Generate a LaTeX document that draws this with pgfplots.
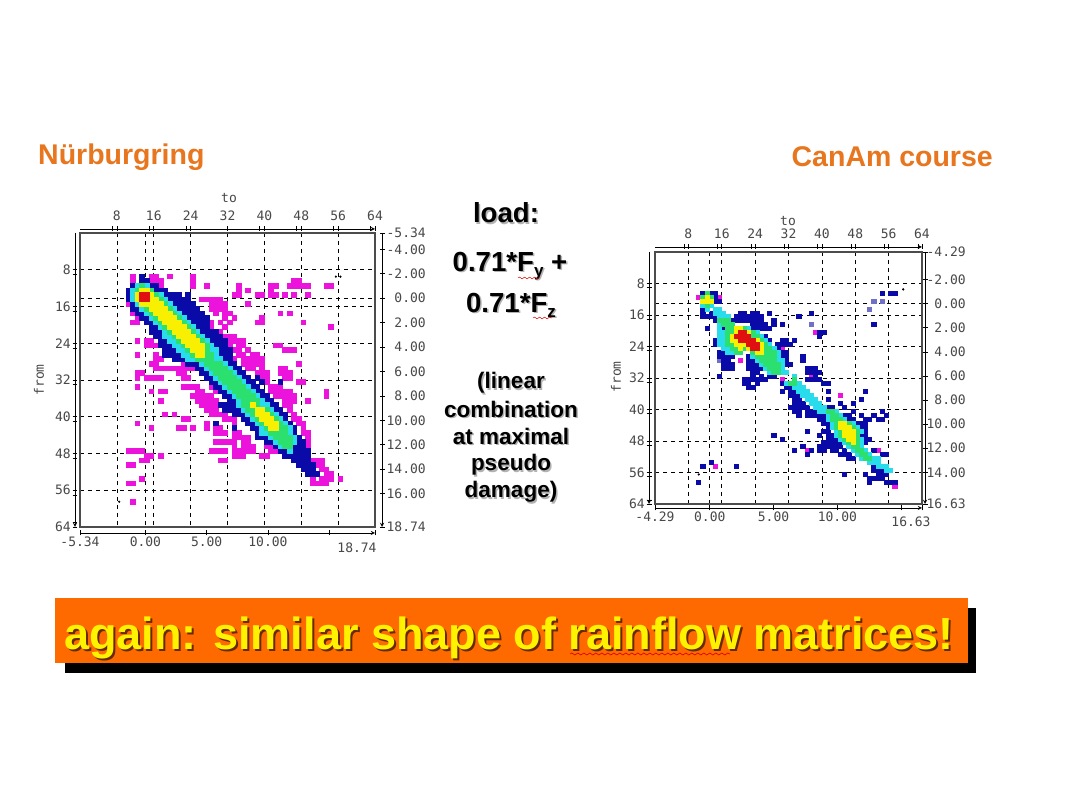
\documentclass[border=0pt]{standalone}
\usepackage{fontspec}
\usepackage{pgfplots}
\usetikzlibrary{decorations.pathmorphing}
\pgfplotsset{compat=1.18}
\setmainfont{Liberation Sans}
\newfontfamily\tickfont{DejaVu Sans Mono}

\definecolor{cmag}{HTML}{EC14DC}
\definecolor{cvio}{HTML}{7070C8}
\definecolor{cblu}{HTML}{0A0AA8}
\definecolor{ccya}{HTML}{28DCEC}
\definecolor{cgre}{HTML}{2CE070}
\definecolor{cyel}{HTML}{F8F000}
\definecolor{cred}{HTML}{E01010}
\definecolor{ctitle}{HTML}{E8761E}
\definecolor{cbanner}{HTML}{FF6A00}
\definecolor{ctick}{HTML}{484848}

\pgfplotsset{
  ruler/.style={scale only axis, tick align=outside, major tick length=5pt, minor tick length=5pt,
    tick style={black, line width=.6pt}, axis line style={black, line width=.9pt, -},
    tick label style={font=\tickfont\fontsize{13}{14}\selectfont, text=ctick, inner sep=1.5pt}},
  panel/.style={scale only axis, axis on top, xmin=-0.5, xmax=63.5, ymin=-0.5, ymax=63.5,
    y dir=reverse, grid=major, major tick length=0pt, xticklabels={}, yticklabels={},
    major grid style={black, dash pattern=on 4pt off 4pt, line width=.7pt}, axis line style={black!70, line width=1.2pt}},
  cellL/.style={only marks, mark=square*, mark size=2.35pt, color=#1, mark options={solid, line width=0pt}},
  cellR/.style={only marks, mark=square*, mark size=2.12pt, color=#1, mark options={solid, line width=0pt, yscale=.95}},
  speck/.style={only marks, mark=*, mark size=.9pt, color=black},
}

\newcommand{\shadowtext}[3]{% x, y, text
  \node[text=black!30, align=center] at (#1pt+1.5pt,#2pt-1.5pt) {#3};
  \node[text=black, align=center] at (#1pt,#2pt) {#3};}
\newcommand{\subs}[1]{\raisebox{-5pt}{\fontsize{17}{17}\selectfont #1}}

\begin{document}
\begin{tikzpicture}[x=1pt, y=1pt]
\useasboundingbox (0,0) rectangle (1080,810);
\fill[white] (0,0) rectangle (1080,810);

% titles
\node[anchor=west, text=ctitle, font=\bfseries\fontsize{28.5}{30}\selectfont, inner sep=0pt] at (38,653) {Nürburgring};
\node[anchor=east, text=ctitle, font=\bfseries\fontsize{28.5}{30}\selectfont, inner sep=0pt] at (993,653) {CanAm course};

% ---------- left matrix ----------
\begin{axis}[panel, at={(80pt,283pt)}, anchor=south west, width=295pt, height=294pt,
  xtick={7.5,13.7,15.5,23.5,31.5,39.5,47.5,55.5}, ytick={7.5,13.8,15.5,23.5,31.5,39.5,47.5,55.5}]
% magenta
\addplot[cellL=cmag] coordinates {
(11,9)(15,9)(16,9)(19,9)(24,9)(11,10)(15,10)(16,10)(17,10)(24,10)(46,10)(47,10)
(16,11)(17,11)(24,11)(27,11)(34,11)(41,11)(42,11)(45,11)(46,11)(47,11)(48,11)(49,11)(53,11)(54,11)
(34,12)(36,12)(41,12)(33,13)(34,13)(38,13)(39,13)(41,13)(42,13)(44,13)(46,13)(49,13)
(10,14)(26,14)(27,14)(28,14)(29,14)(30,14)(10,15)(28,15)(29,15)(30,15)(31,15)(36,15)
(28,16)(29,16)(30,16)(31,16)(29,17)(31,17)(32,17)(43,17)(45,17)(11,17)(12,18)(27,18)(31,18)(33,18)(39,18)
(11,19)(12,19)(28,19)(30,19)(32,19)(38,19)(39,19)(48,19)(27,20)(28,20)(31,20)(54,20)(30,21)
(31,22)(32,22)(33,22)(12,23)(14,23)(15,23)(32,23)(33,23)(34,23)(35,23)(14,24)(15,24)(16,24)(32,24)(34,24)(35,24)(42,24)(43,24)
(33,25)(34,25)(36,25)(44,25)(45,25)(46,25)(12,26)(16,26)(34,26)(35,26)(37,26)(38,26)
(16,27)(17,27)(33,27)(35,27)(36,27)(37,27)(38,27)(39,27)(15,28)(16,28)(22,28)(35,28)(36,28)(37,28)(38,28)(39,28)(47,28)
(16,29)(17,29)(18,29)(19,29)(20,29)(21,29)(22,29)(23,29)(24,29)(36,29)(37,29)(39,29)(43,29)(44,29)
(12,30)(13,30)(21,30)(22,30)(38,30)(39,30)(40,30)(43,30)(44,30)(45,30)
(12,31)(14,31)(15,31)(16,31)(17,31)(22,31)(23,31)(39,31)(40,31)(44,31)(45,31)(40,32)(47,32)(48,32)
(12,33)(22,33)(23,33)(24,33)(25,33)(28,33)(41,33)(42,33)(43,33)
(15,34)(17,34)(18,34)(25,34)(26,34)(29,34)(41,34)(42,34)(43,34)(44,34)(45,34)(53,34)
(24,35)(25,35)(26,35)(27,35)(28,35)(42,35)(43,35)(44,35)(45,35)(46,35)(53,35)
(17,36)(25,36)(26,36)(27,36)(28,36)(29,36)(44,36)(45,36)(46,36)(49,36)
(26,37)(27,37)(28,37)(29,37)(44,37)(45,37)(27,38)(28,38)(29,38)(45,38)
(18,39)(20,39)(28,39)(29,39)(30,39)(31,39)(46,39)(22,40)(23,40)(31,40)(32,40)(33,40)(46,40)(47,40)
(12,41)(27,41)(33,41)(47,41)(48,41)(15,42)(21,42)(22,42)(24,42)(27,42)(29,42)(30,42)(48,42)
(29,43)(30,43)(31,43)(33,43)(34,43)(48,43)(49,43)(33,44)(34,44)(35,44)(36,44)(49,44)
(29,45)(30,45)(31,45)(32,45)(33,45)(35,45)(36,45)(40,45)(41,45)(42,45)(48,45)(49,45)
(33,46)(35,46)(36,46)(37,46)(40,46)(41,46)(42,46)(43,46)(49,46)
(10,47)(11,47)(12,47)(13,47)(28,47)(29,47)(30,47)(31,47)(33,47)(34,47)(35,47)(36,47)(37,47)(41,47)(42,47)(43,47)
(14,48)(15,48)(17,48)(33,48)(34,48)(35,48)(39,48)(40,48)
(13,49)(14,49)(30,49)(31,49)(50,49)(51,49)(52,49)(10,50)(11,50)(51,50)(52,50)(52,51)(53,51)(53,52)(54,52)
(13,53)(50,53)(52,53)(53,53)(54,53)(56,53)(10,54)(11,54)(50,54)(51,54)(52,54)(53,54)(11,58)};
% blue
\addplot[cellL=cblu] coordinates {
(13,9)(13,10)(14,10)(11,11)(15,11)(16,11)(10,12)(16,12)(17,12)(18,12)(10,13)(18,13)(19,13)(20,13)(21,13)(23,13)
(10,14)(19,14)(20,14)(21,14)(22,14)(23,14)(11,15)(20,15)(21,15)(22,15)(23,15)(24,15)
(11,16)(12,16)(21,16)(22,16)(23,16)(24,16)(25,16)(12,17)(13,17)(22,17)(23,17)(24,17)(25,17)(26,17)
(13,18)(14,18)(23,18)(24,18)(25,18)(26,18)(27,18)(14,19)(15,19)(24,19)(25,19)(26,19)(27,19)
(15,20)(16,20)(25,20)(26,20)(27,20)(15,21)(16,21)(17,21)(26,21)(27,21)(28,21)(29,21)
(16,22)(17,22)(27,22)(28,22)(29,22)(30,22)(17,23)(18,23)(28,23)(29,23)(30,23)(31,23)
(17,24)(18,24)(19,24)(29,24)(30,24)(31,24)(18,25)(19,25)(20,25)(30,25)(31,25)(32,25)
(18,26)(19,26)(20,26)(21,26)(30,26)(31,26)(32,26)(20,27)(21,27)(22,27)(31,27)(32,27)
(23,28)(24,28)(25,28)(32,28)(33,28)(25,29)(26,29)(33,29)(34,29)(26,30)(27,30)(34,30)(35,30)
(27,31)(28,31)(35,31)(36,31)(38,31)(28,32)(29,32)(36,32)(37,32)(39,32)(43,32)(29,33)(30,33)(37,33)(38,33)
(30,34)(31,34)(38,34)(39,34)(31,35)(32,35)(39,35)(40,35)(32,36)(33,36)(40,36)(41,36)
(30,37)(31,37)(32,37)(33,37)(41,37)(42,37)(31,38)(32,38)(33,38)(34,38)(42,38)(43,38)
(33,39)(34,39)(35,39)(43,39)(44,39)(35,40)(36,40)(44,40)(29,41)(36,41)(37,41)(45,41)(33,42)(37,42)(38,42)(46,42)
(38,43)(46,43)(38,44)(39,44)(40,44)(47,44)(40,45)(41,45)(47,45)(48,45)(42,46)(46,46)(47,46)(48,46)
(43,47)(44,47)(46,47)(47,47)(48,47)(49,47)(44,48)(45,48)(46,48)(47,48)(48,48)(49,48)
(46,49)(47,49)(48,49)(49,49)(47,50)(48,50)(49,50)(50,50)(48,51)(49,51)(50,51)(49,52)(50,52)(51,52)};
% cyan
\addplot[cellL=ccya] coordinates {
(12,11)(14,11)(11,12)(11,13)(17,13)(11,14)(18,14)(12,15)(19,15)(13,16)(20,16)(14,17)(21,17)(15,18)(22,18)
(16,19)(23,19)(17,20)(24,20)(18,21)(25,21)(18,22)(19,22)(26,22)(19,23)(20,23)(27,23)(20,24)(21,24)(28,24)
(21,25)(22,25)(28,25)(29,25)(22,26)(23,26)(29,26)(23,27)(24,27)(29,27)(30,27)(26,28)(31,28)
(27,29)(32,29)(28,30)(33,30)(29,31)(34,31)(30,32)(35,32)
(31,33)(36,33)(32,34)(37,34)(33,35)(38,35)(34,36)(39,36)
(34,37)(39,37)(40,37)(35,38)(41,38)(36,39)(42,39)(37,40)(43,40)(38,41)(44,41)(39,42)(45,42)
(39,43)(40,43)(45,43)(41,44)(46,44)(42,45)(46,45)(43,46)(45,47)};
% green
\addplot[cellL=cgre] coordinates {
(13,11)(12,12)(15,12)(16,13)(17,14)(18,15)(14,16)(19,16)(15,17)(20,17)(16,18)(21,18)(17,19)(22,19)
(18,20)(23,20)(19,21)(24,21)(20,22)(25,22)(21,23)(26,23)(22,24)(27,24)(23,25)(27,25)(24,26)(27,26)(28,26)
(25,27)(26,27)(27,27)(28,27)(27,28)(28,28)(29,28)(30,28)(28,29)(29,29)(30,29)(31,29)(29,30)(30,30)(31,30)(32,30)
(30,31)(31,31)(32,31)(33,31)(31,32)(32,32)(33,32)(34,32)(32,33)(33,33)(34,33)(35,33)(33,34)(34,34)(35,34)(36,34)
(34,35)(35,35)(36,35)(37,35)(35,36)(36,36)(37,36)(38,36)(35,37)(36,37)(38,37)(36,38)(37,38)(40,38)(37,39)(41,39)
(38,40)(42,40)(39,41)(43,41)(40,42)(43,42)(44,42)(41,43)(42,43)(43,43)(44,43)(42,44)(43,44)(44,44)(45,44)
(43,45)(44,45)(45,45)(44,46)(45,46)};
% yellow
\addplot[cellL=cyel] coordinates {
(13,12)(14,12)(12,13)(15,13)(12,14)(15,14)(16,14)(13,15)(14,15)(15,15)(16,15)(17,15)(15,16)(16,16)(17,16)(18,16)
(16,17)(17,17)(18,17)(19,17)(17,18)(18,18)(19,18)(20,18)(18,19)(19,19)(20,19)(21,19)(19,20)(20,20)(21,20)(22,20)
(20,21)(21,21)(22,21)(23,21)(21,22)(22,22)(23,22)(24,22)(22,23)(23,23)(24,23)(25,23)(23,24)(24,24)(25,24)(26,24)
(24,25)(25,25)(26,25)(25,26)(26,26)(37,37)(38,38)(39,38)(38,39)(39,39)(40,39)(39,40)(40,40)(41,40)(40,41)(41,41)(42,41)(41,42)(42,42)};
% red
\addplot[cellL=cred] coordinates {(13,13)(14,13)(13,14)(14,14)};
\addplot[speck] coordinates {(55,9)(56,9)(8,58)};
\end{axis}

\begin{axis}[ruler, at={(80pt,580pt)}, anchor=south west, width=295pt, height=1pt, axis x line=top, axis y line=none,
  xmin=0, xmax=64, ymin=0, ymax=1, xtick={8,16,24,32,40,48,56,64}, minor xtick={7,15,23,39,47,55,63},
  xticklabels={8,16,24,32,40,48,56,64}, xticklabel style={yshift=4pt}]
\end{axis}
\begin{axis}[ruler, at={(80pt,277pt)}, anchor=south west, width=295pt, height=1pt, axis x line=bottom, axis y line=none,
  xmin=-5.34, xmax=18.74, ymin=0, ymax=1, xtick={-5.34,0,5,10,15,18.74}, xticklabels={-5.34,0.00,5.00,10.00,,}]
\end{axis}
\begin{axis}[ruler, at={(76pt,283pt)}, anchor=south east, width=1pt, height=294pt, axis y line=left, axis x line=none,
  xmin=0, xmax=1, ymin=0, ymax=64, y dir=reverse, ytick={8,16,24,32,40,48,56,64}, minor ytick={9,17,25,33,41,49,57,63},
  yticklabels={8,16,24,32,40,48,56,64}]
\end{axis}
\begin{axis}[ruler, at={(382pt,283pt)}, anchor=south east, width=1pt, height=294pt, axis y line=right, axis x line=none,
  xmin=0, xmax=1, ymin=-5.34, ymax=18.74, y dir=reverse, ytick={-5.34,-4,-2,0,2,4,6,8,10,12,14,16,18.74},
  yticklabels={-5.34,-4.00,-2.00,0.00,2.00,4.00,6.00,8.00,10.00,12.00,14.00,16.00,18.74},
  yticklabel style={anchor=east, xshift=43pt}]
\end{axis}
\node[font=\tickfont\fontsize{13}{14}\selectfont, text=ctick] at (357,262) {18.74};
\node[font=\tickfont\fontsize{13}{14}\selectfont, text=ctick] at (229,612) {to};
\node[font=\tickfont\fontsize{13}{14}\selectfont, text=ctick, rotate=90] at (39,430) {from};

% ---------- right matrix ----------
\begin{axis}[panel, at={(655pt,306pt)}, anchor=south west, width=267pt, height=252pt,
  xtick={7.5,12.5,15.5,23.5,31.5,39.5,47.5,55.5}, ytick={7.5,12.5,15.5,23.5,31.5,39.5,47.5,55.5}]
% magenta and violet
\addplot[cellR=cmag] coordinates {(10,11)(15,11)(38,20)(20,27)(30,24)(27,31)(37,31)(30,32)(44,36)(48,43)(43,47)(36,50)(53,50)(14,54)(57,59)};
\addplot[cellR=cvio] coordinates {(52,12)(54,12)(51,14)(37,18)(15,27)};
% blue
\addplot[cellR=cblu] coordinates {
(11,10)(13,10)(14,10)(54,10)(56,10)(57,10)(14,11)(14,12)(15,12)(11,14)(11,15)(13,15)(20,15)(21,15)(23,15)(24,15)(27,15)(37,15)
(11,16)(12,16)(13,16)(14,16)(19,16)(20,16)(21,16)(22,16)(23,16)(24,16)(25,16)(34,16)
(14,17)(15,17)(18,17)(19,17)(20,17)(21,17)(22,17)(23,17)(24,17)(25,17)(28,17)
(23,18)(24,18)(25,18)(26,18)(28,18)(30,18)(52,18)(12,19)(16,19)(23,19)(24,19)(25,19)(26,19)(27,19)
(16,20)(39,20)(40,20)(39,21)(25,21)(26,21)(26,22)(27,22)(30,22)(31,22)(33,22)(14,22)(14,23)(29,23)(30,23)(31,23)(32,23)
(28,24)(29,24)(15,25)(16,25)(29,25)(30,25)(31,25)(15,26)(16,26)(17,26)(18,26)(22,26)(23,26)(30,26)(31,26)(35,26)
(16,27)(17,27)(22,27)(23,27)(30,27)(31,27)(35,27)(16,28)(17,28)(18,28)(22,28)(23,28)(24,28)(30,28)(31,28)(32,28)
(16,29)(17,29)(18,29)(22,29)(23,29)(24,29)(25,29)(36,29)(37,29)(38,29)(23,30)(24,30)(36,30)(37,30)(38,30)(39,30)
(15,31)(23,31)(25,31)(27,31)(28,31)(38,31)(21,32)(22,32)(23,32)(24,32)(25,32)(26,32)(36,32)(37,32)(38,32)(39,32)
(21,33)(22,33)(24,33)(30,33)(31,33)(40,33)(41,33)(22,34)(23,34)(31,34)(32,34)(33,34)
(30,35)(32,35)(33,35)(41,35)(50,35)(32,36)(33,36)(34,36)(33,37)(34,37)(41,37)(49,37)
(33,38)(34,38)(35,38)(44,38)(47,38)(32,39)(33,39)(34,39)(35,39)(36,39)(40,39)(41,39)(42,39)(45,39)
(33,40)(34,40)(36,40)(37,40)(38,40)(47,40)(54,40)(34,41)(36,41)(37,41)(38,41)(39,41)(40,41)(45,41)(46,41)(49,41)(52,41)(55,41)
(39,42)(40,42)(46,42)(47,42)(50,42)(51,42)(53,42)(54,42)(40,43)(41,43)(48,43)(49,43)(50,43)(41,44)(49,44)(50,44)
(36,45)(40,45)(41,45)(50,45)(28,46)(39,46)(41,46)(42,46)(49,46)(50,46)(30,47)(41,47)(42,47)(43,47)(50,47)(51,47)
(40,48)(41,48)(42,48)(43,48)(44,48)(50,48)(35,49)(39,49)(40,49)(41,49)(42,49)(43,49)(44,49)
(33,50)(37,50)(39,50)(40,50)(42,50)(43,50)(45,50)(52,50)(36,51)(44,51)(45,51)(46,51)(54,51)(55,51)
(46,52)(47,52)(52,52)(53,52)(13,53)(52,53)(53,53)(11,54)(19,54)(52,54)(53,54)(52,55)(53,55)(54,55)
(45,56)(50,56)(53,56)(54,56)(55,56)(51,57)(52,57)(53,57)(54,57)(10,58)(51,58)(55,58)(56,58)(57,58)};
% cyan
\addplot[cellR=ccya] coordinates {
(11,13)(13,13)(12,14)(14,14)(15,14)(14,15)(15,15)(16,15)(15,16)(16,16)(17,16)(15,18)(15,19)(22,19)(15,20)(16,20)(24,20)
(15,21)(16,21)(25,21)(15,22)(16,22)(26,22)(15,23)(16,23)(27,23)(16,24)(17,24)(28,24)(17,25)(18,25)(29,25)(23,26)(29,26)
(24,27)(29,27)(30,27)(25,28)(30,28)(26,29)(30,29)(27,30)(30,30)(31,30)(33,31)(31,33)(34,33)(33,34)(34,34)(35,34)
(34,35)(35,35)(36,35)(35,36)(36,36)(37,36)(36,37)(37,37)(38,37)(37,38)(38,38)(39,38)(38,39)(39,39)(40,39)
(39,40)(40,40)(43,40)(41,41)(44,41)(41,42)(45,42)(42,43)(47,43)(42,44)(48,44)(43,45)(49,45)(43,46)(44,47)(49,47)
(45,48)(49,48)(46,49)(49,49)(47,50)(50,50)(48,51)(51,51)(49,52)(52,52)(53,52)(51,53)(52,53)(53,53)(53,54)(54,54)(55,54)(55,55)(56,55)};
% green
\addplot[cellR=cgre] coordinates {
(12,10)(11,11)(13,11)(12,13)(15,17)(16,17)(17,17)(16,18)(17,18)(18,18)(17,19)(18,19)(21,19)(17,20)(18,20)(23,20)
(17,21)(23,21)(24,21)(17,22)(25,22)(17,23)(18,23)(26,23)(18,24)(19,24)(21,24)(26,24)(27,24)
(19,25)(20,25)(23,25)(26,25)(27,25)(28,25)(24,26)(25,26)(26,26)(27,26)(28,26)(25,27)(26,27)(27,27)(28,27)
(26,28)(27,28)(28,28)(29,28)(27,29)(28,29)(29,29)(28,30)(29,30)(33,32)(32,33)(33,33)
(41,40)(42,40)(42,41)(43,41)(42,42)(43,42)(44,42)(43,43)(46,43)(43,44)(47,44)(44,45)(48,45)(44,46)(48,46)
(45,47)(48,47)(46,48)(48,48)(47,49)(48,49)(48,50)(49,50)(49,51)(50,51)(50,52)(51,52)};
% yellow
\addplot[cellR=cyel] coordinates {
(12,11)(11,12)(12,12)(13,12)(19,19)(20,19)(19,20)(22,20)(18,21)(18,22)(19,22)(24,22)(19,23)(20,23)(21,23)(25,23)(20,24)(22,24)(25,24)(24,25)(25,25)
(44,43)(45,43)(44,44)(45,44)(46,44)(45,45)(46,45)(47,45)(45,46)(46,46)(47,46)(46,47)(47,47)(47,48)};
% red
\addplot[cellR=cred] coordinates {(20,20)(21,20)(19,21)(20,21)(21,21)(22,21)(20,22)(21,22)(22,22)(23,22)(22,23)(23,23)(24,23)(23,24)(24,24)};
\addplot[speck] coordinates {(59,9)(10,56)};
\end{axis}

\begin{axis}[ruler, at={(655pt,562pt)}, anchor=south west, width=267pt, height=1pt, axis x line=top, axis y line=none,
  xmin=0, xmax=64, ymin=0, ymax=1, xtick={8,16,24,32,40,48,56,64}, minor xtick={7,15,23,31,39,47,55,63},
  xticklabels={8,16,24,32,40,48,56,64}, xticklabel style={yshift=4pt}]
\end{axis}
\begin{axis}[ruler, at={(655pt,302pt)}, anchor=south west, width=267pt, height=1pt, axis x line=bottom, axis y line=none,
  xmin=-4.29, xmax=16.63, ymin=0, ymax=1, xtick={-4.29,0,5,10,15,16.63}, xticklabels={-4.29,0.00,5.00,10.00,,}]
\end{axis}
\begin{axis}[ruler, at={(650pt,306pt)}, anchor=south east, width=1pt, height=252pt, axis y line=left, axis x line=none,
  xmin=0, xmax=1, ymin=0, ymax=64, y dir=reverse, ytick={8,16,24,32,40,48,56,64}, minor ytick={9,17,25,33,41,49,57,63},
  yticklabels={8,16,24,32,40,48,56,64}]
\end{axis}
\begin{axis}[ruler, at={(925pt,306pt)}, anchor=south east, width=1pt, height=252pt, axis y line=right, axis x line=none,
  xmin=0, xmax=1, ymin=-4.29, ymax=16.63, y dir=reverse, ytick={-4.29,-2,0,2,4,6,8,10,12,14,16.63},
  yticklabels={-4.29,-2.00,0.00,2.00,4.00,6.00,8.00,10.00,12.00,14.00,16.63},
  yticklabel style={anchor=east, xshift=40pt}]
\end{axis}
\node[font=\tickfont\fontsize{13}{14}\selectfont, text=ctick] at (911,288) {16.63};
\node[font=\tickfont\fontsize{13}{14}\selectfont, text=ctick] at (788,589) {to};
\node[font=\tickfont\fontsize{13}{14}\selectfont, text=ctick, rotate=90] at (616,433) {from};

% ---------- middle text ----------
\begin{scope}[font=\bfseries\fontsize{27.6}{28}\selectfont]
\shadowtext{506}{597}{load:}
\shadowtext{510}{544}{0.71*F\subs{y} +}
\shadowtext{511}{505}{0.71*F\subs{z}}
\end{scope}
\begin{scope}[font=\bfseries\fontsize{22.5}{23}\selectfont]
\shadowtext{511}{427}{(linear}
\shadowtext{511}{401}{combination}
\shadowtext{511}{374}{at maximal}
\shadowtext{511}{345}{pseudo}
\shadowtext{511}{318}{damage)}
\end{scope}
\draw[red!85!black, line width=.5pt, decorate, decoration={snake, amplitude=.9pt, segment length=5pt}] (518,532) -- (540,532);
\draw[red!85!black, line width=.5pt, decorate, decoration={snake, amplitude=.9pt, segment length=5pt}] (533,492) -- (552,492);

% ---------- banner ----------
\fill[black] (65,202) rectangle (976,137);
\fill[cbanner] (55,212) rectangle (968,147);
\node[text=black!60!cbanner, font=\bfseries\fontsize{45}{46}\selectfont] at (511,170) {again: similar shape of rainflow matrices!};
\node[text=yellow, font=\bfseries\fontsize{45}{46}\selectfont] at (509,172) {again: similar shape of rainflow matrices!};
\draw[red!85!black, line width=.6pt, decorate, decoration={snake, amplitude=1pt, segment length=6pt}] (570,156) -- (730,156);
\end{tikzpicture}
\end{document}
